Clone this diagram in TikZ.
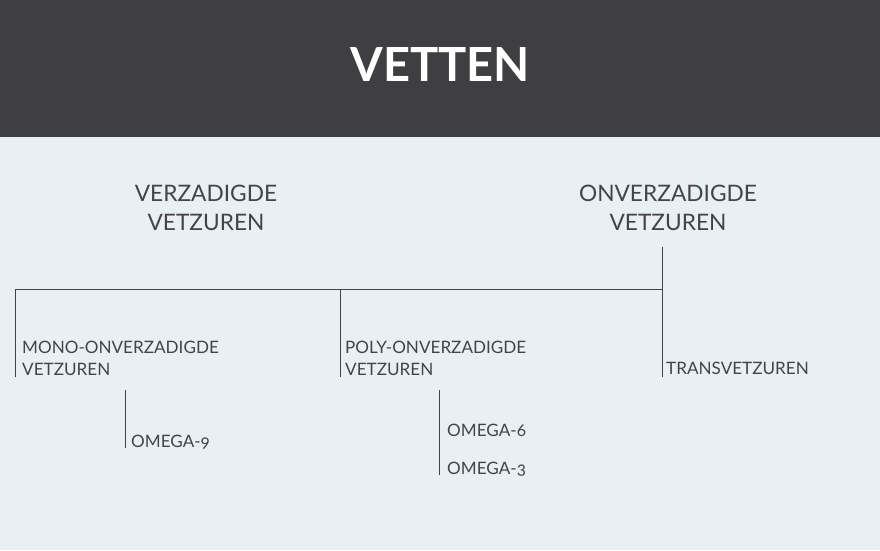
\documentclass[tikz,border=0pt]{standalone}
\usepackage{fontspec}
\setmainfont[Numbers=OldStyle]{Lato}
\definecolor{bgc}{HTML}{E8F0F3}
\definecolor{barc}{HTML}{3F3F41}
\definecolor{inkc}{HTML}{444448}
\tikzset{
  head/.style={font=\fontsize{22.7}{28.5}\selectfont, text=inkc, align=center, anchor=base, inner sep=0pt},
  lab/.style={font=\fontsize{17.1}{22}\selectfont, text=inkc, align=left, anchor=base west, inner sep=0pt},
  link/.style={draw=inkc, line width=1pt},
}
\begin{document}
\begin{tikzpicture}[x=1pt,y=-1pt]
\useasboundingbox (0,0) rectangle (880,550);
\fill[bgc] (0,0) rectangle (880,550);
\fill[barc] (0,0) rectangle (880,137);
\node[font=\fontsize{47}{47}\bfseries\selectfont, text=white, anchor=base, inner sep=0pt] (title) at (440,81) {VETTEN};
\node[head] (sat) at (206,230) {VERZADIGDE\\VETZUREN};
\node[head] (unsat) at (668,230) {ONVERZADIGDE\\VETZUREN};
\node[lab] (mono) at (22,375) {MONO-ONVERZADIGDE\\VETZUREN};
\node[lab] (poly) at (345,375) {POLY-ONVERZADIGDE\\VETZUREN};
\node[lab] (trans) at (666,374) {TRANSVETZUREN};
\node[lab] (o9) at (131,447) {OMEGA-9};
\node[lab] (o6) at (447,436) {OMEGA-6};
\node[lab] (o3) at (447,474) {OMEGA-3};
\coordinate (utop) at (662,247);
\coordinate (ujoin) at (662,289);
\coordinate (ubot) at (662,377);
\coordinate (mtop) at (15,289);
\coordinate (mbot) at (15,377);
\coordinate (ptop) at (340,289);
\coordinate (pbot) at (340,377);
\coordinate (o9top) at (125,390);
\coordinate (o9bot) at (125,448);
\coordinate (pstop) at (439,390);
\coordinate (psbot) at (439,475);
\draw[link] (utop) -- (ubot);
\draw[link] (mbot) -- (mtop) -- (ujoin);
\draw[link] (ptop) -- (pbot);
\draw[link] (o9top) -- (o9bot);
\draw[link] (pstop) -- (psbot);
\end{tikzpicture}
\end{document}
